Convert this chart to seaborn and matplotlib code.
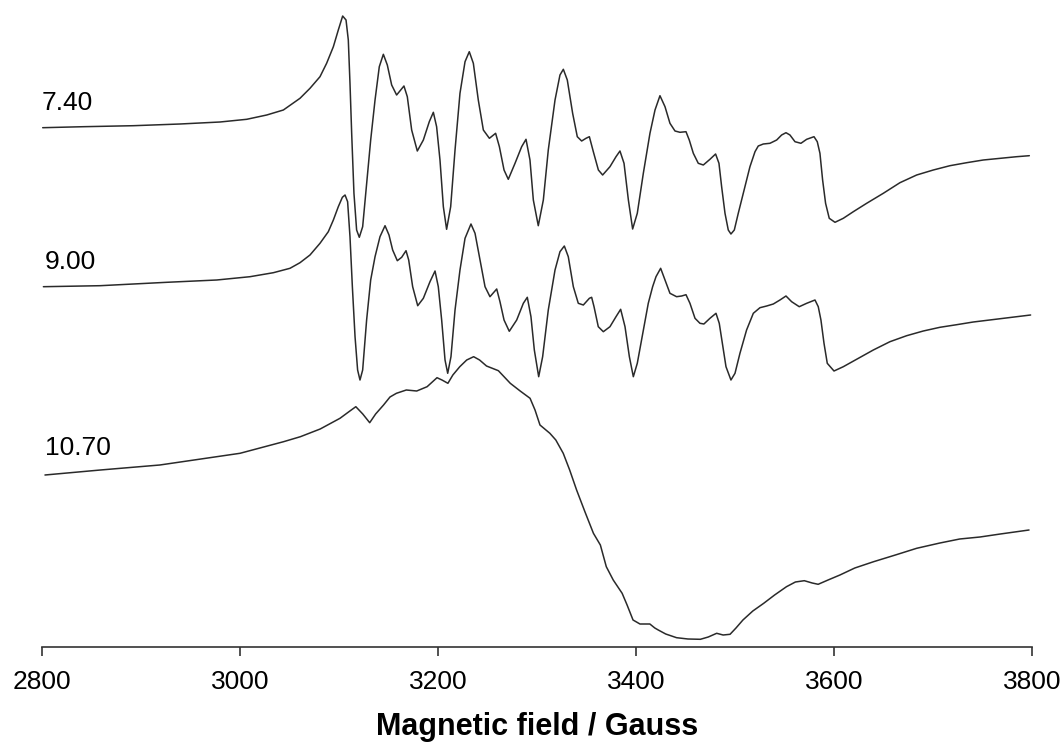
import matplotlib
matplotlib.use("Agg")
import matplotlib.pyplot as plt
import seaborn as sns
import pandas as pd

# ---- data (field in Gauss, intensity in arbitrary units) ----
field_740 = [2800.7, 2841.8, 2892.3, 2939.4, 2979.8, 3006.8, 3027.0, 3043.8,
             3060.6, 3070.7, 3080.8, 3087.5, 3094.3, 3099.3, 3103.7, 3107.1, 3109.4, 3111.1,
             3112.8, 3115.1, 3117.8, 3120.5, 3123.9, 3127.9, 3132.0, 3136.4, 3140.7, 3144.8,
             3148.8, 3153.2, 3158.2, 3162.3, 3165.6, 3169.0, 3173.4, 3179.1, 3185.2, 3191.2,
             3195.3, 3198.6, 3202.0, 3205.4, 3208.7, 3212.8, 3217.2, 3222.2, 3227.3, 3231.6,
             3235.7, 3240.7, 3245.8, 3251.9, 3258.2, 3262.0, 3266.7, 3271.0, 3277.8, 3284.5,
             3288.9, 3292.9, 3296.3, 3301.3, 3306.4, 3311.4, 3318.2, 3323.2, 3326.6, 3330.6,
             3336.0, 3340.7, 3345.1, 3349.5, 3352.9, 3356.9, 3362.0, 3366.3, 3373.7, 3379.8,
             3383.8, 3387.9, 3392.3, 3396.6, 3401.3, 3407.4, 3414.1, 3419.2,
             3424.2, 3429.3, 3434.3, 3439.4, 3444.4, 3450.5, 3453.8, 3457.9, 3462.9, 3468.0,
             3474.7, 3480.4, 3483.8, 3486.5, 3489.9, 3493.2, 3495.9, 3499.3, 3503.3, 3508.4,
             3515.1, 3520.2, 3523.5, 3528.6, 3535.3, 3542.1, 3547.1, 3551.5, 3555.5, 3560.6,
             3566.6, 3572.4, 3579.8, 3583.1, 3585.8, 3588.5, 3591.5, 3595.2, 3601.0, 3609.4,
             3619.5, 3633.0, 3649.8, 3666.6, 3683.5, 3700.3, 3717.1, 3734.0, 3750.8, 3767.6,
             3784.5, 3797.3]
signal_740 = [520.3, 521.3, 522.3, 524, 526, 528.7, 533, 538,
              549.7, 559.7, 571.3, 584.7, 601.3, 618, 632, 628, 608, 564.7,
              514.7, 454.7, 418, 410.7, 421.3, 464.7, 508, 548, 581.3, 593.7,
              583, 563, 553, 558, 562, 551.3, 518, 497, 508, 526.3,
              535.7, 521.3, 488, 441.3, 418.7, 441.3, 498, 554.7, 586.3, 596.3,
              584.7, 548, 518, 509.7, 514.7, 501.3, 478, 468.7, 484.7, 501.3,
              508.7, 488, 448, 422.3, 448, 498, 548, 573, 578.7, 568,
              534.7, 511.3, 507, 509.7, 511.3, 496.3, 478, 473, 481.3, 491.3,
              497, 484.7, 448, 419, 434.7, 474.7, 514.7, 538,
              552.3, 541.3, 524.7, 517, 515.7, 516.3, 508, 494.7, 484.7, 483,
              488.7, 494, 484.7, 461.3, 434.7, 418, 414, 418, 434.7, 454.7,
              481.3, 496.3, 502, 504, 504.7, 508, 513, 515.3, 513, 506.3,
              504.7, 508.7, 511.3, 506.3, 494.7, 468, 444.7, 429.7, 425.7, 429.7,
              436.3, 444.7, 454.7, 465.3, 473, 478, 482.3, 485.3, 488, 489.7,
              491.3, 492.3]

field_900 = [2801.4, 2858.6, 2926.1, 2976.5, 3010.1, 3033.7, 3050.5,
             3060.6, 3070.7, 3080.8, 3089.2, 3094.3, 3099.3, 3103.4, 3106.1, 3108.7, 3111.1,
             3113.5, 3116.2, 3118.8, 3121.2, 3123.9, 3127.9, 3132.0, 3136.4, 3141.4, 3146.5,
             3150.5, 3154.2, 3158.9, 3163.3, 3167.7, 3170.4, 3174.4, 3179.5, 3185.2, 3191.9,
             3197.0, 3200.3, 3203.7, 3207.1, 3209.8, 3213.1, 3217.2, 3222.2, 3227.3, 3233.3,
             3237.4, 3242.4, 3247.5, 3252.5, 3259.3, 3262.6, 3266.7, 3272.0, 3279.5, 3286.2,
             3290.2, 3293.9, 3297.3, 3301.7, 3305.7, 3311.4, 3318.2, 3323.2, 3327.6, 3331.6,
             3336.7, 3341.7, 3346.8, 3352.9, 3355.2, 3357.6, 3361.9, 3367.0, 3373.7, 3379.8,
             3384.5, 3388.9, 3393.3, 3397.3, 3401.3, 3407.4, 3412.4, 3416.8, 3420.2,
             3424.9, 3429.3, 3434.3, 3441.0, 3446.1, 3450.5, 3454.5, 3459.6, 3464.6, 3468.6,
             3474.7, 3480.8, 3484.1, 3487.2, 3490.9, 3495.9, 3500.0, 3505.0, 3511.7, 3518.5,
             3525.2, 3532.0, 3538.7, 3545.4, 3551.5, 3557.2, 3564.9, 3572.4, 3580.8, 3584.1,
             3586.8, 3589.9, 3593.2, 3600.0, 3609.4, 3622.9, 3639.7, 3656.5, 3673.4, 3690.2,
             3707.0, 3723.9, 3740.7, 3757.5, 3777.7, 3798.6]
signal_900 = [361.3, 362.3, 365.7, 368, 371.3, 375.3, 379.7,
              385.3, 393, 404.7, 416.3, 428, 441.3, 450.7, 453, 446.3, 411.3,
              361.3, 311.3, 278, 268, 278, 328, 368, 391.3, 411.3, 422.3,
              413, 398, 387.3, 390.7, 397.3, 388, 361.3, 342.3, 349.7, 366.3,
              377, 361.3, 328, 288, 274.7, 291.3, 338, 378, 409.7, 424,
              414.7, 388, 361.3, 351.3, 359, 346.3, 328, 316.7, 328, 344.7,
              350.7, 331.3, 298, 271.3, 291.3, 338, 378, 396.3, 402, 391.3,
              361.3, 344.7, 343, 349.7, 350.7, 341.3, 321.3, 316.3, 321.3, 331.3,
              338.7, 321.3, 291.3, 271.3, 284.7, 318, 344.7, 361.3, 371.3,
              379.7, 368, 354.7, 351.3, 352, 353.3, 344.7, 329.7, 324.7, 324,
              329.7, 334.7, 324.7, 304.7, 281.3, 268, 274.7, 294.7, 318, 334.7,
              340.3, 342, 344, 348, 352, 346.3, 341.3, 344.7, 348, 341.3,
              328, 304.7, 284.7, 277, 281.3, 288.7, 298, 306.3, 312.3, 317,
              320.7, 323.3, 326, 328, 330.3, 333]

field_1070 = [2803, 2859, 2919, 3000, 3044, 3061, 3081, 3101, 3111, 3117,
              3124, 3131, 3137, 3145, 3151.5, 3158, 3168, 3178.5, 3189, 3199,
              3204, 3210, 3215, 3222, 3229, 3236, 3242, 3249, 3261, 3273,
              3283, 3293, 3298, 3303, 3313, 3319, 3326.5, 3333, 3340, 3348.5,
              3357, 3364, 3370, 3377, 3386, 3391, 3397, 3404, 3414, 3419,
              3422.5, 3430, 3441, 3452.5, 3465, 3473, 3481.5, 3488, 3495, 3501,
              3508, 3518, 3529, 3540, 3552, 3561, 3570, 3578, 3584, 3594,
              3606, 3621, 3640, 3662, 3683.5, 3707, 3727, 3747.5, 3768, 3797]
signal_1070 = [173, 178, 183, 194.7, 206.3, 211.3, 219, 229.7, 237, 241.3,
               234, 225.3, 234, 243, 251, 254.7, 258, 257, 261.3, 270.3,
               268, 264.7, 273, 281.3, 288, 291.3, 288, 282, 277.3, 264.7,
               257, 249.7, 238, 223, 214.7, 208, 194.7, 178, 158, 136,
               114.7, 103, 81.3, 68, 54.7, 43, 28, 24, 24, 20,
               18, 14, 10.3, 9, 8.7, 11, 14.7, 13, 13.7, 20,
               28, 37, 44.7, 53, 61.3, 66, 67.3, 65, 63.7, 68,
               73, 80, 86.3, 93, 99.7, 105, 109, 111, 114, 118]

series_labels = ["7.40", "9.00", "10.70"]
x_ticks = [2800, 3000, 3200, 3400, 3600, 3800]

assert len(field_740) == len(signal_740)
assert len(field_900) == len(signal_900)
assert len(field_1070) == len(signal_1070)

# ---- plotting ----
sns.set_theme(style="white")
plt.rcParams["font.family"] = ["Liberation Sans", "DejaVu Sans"]

fig = plt.figure(figsize=(10.63, 7.42), dpi=100)
ax = fig.add_axes([42 / 1063, 95 / 742, 990 / 1063, 647 / 742])

traces = [(field_740, signal_740), (field_900, signal_900), (field_1070, signal_1070)]
label_pos = [(2800, 538), (2803, 379), (2803, 193)]

for (fx, sy), lab, (lx, ly) in zip(traces, series_labels, label_pos):
    df = pd.DataFrame({"field": fx, "signal": sy})
    sns.lineplot(data=df, x="field", y="signal", ax=ax, sort=False,
                 estimator=None, color="#2a2a2a", linewidth=1.1,
                 solid_joinstyle="round")
    ax.text(lx, ly, lab, fontsize=19, ha="left", va="baseline", color="black")

ax.set_xlim(2800, 3800)
ax.set_ylim(1, 648)
ax.set_xticks(x_ticks)
ax.set_xticklabels([str(t) for t in x_ticks])
ax.set_yticks([])
ax.set_ylabel("")
ax.set_xlabel("Magnetic field / Gauss", fontsize=22, fontweight="bold",
              labelpad=13, color="black")

for s in ["left", "right", "top"]:
    ax.spines[s].set_visible(False)
ax.spines["bottom"].set_color("#333333")
ax.spines["bottom"].set_linewidth(1.2)
ax.tick_params(axis="x", direction="out", length=6.5, width=1.2, color="#333333",
               labelsize=19, labelcolor="black", pad=10, bottom=True)
ax.patch.set_alpha(0)

fig.savefig("out.png", dpi=100)
